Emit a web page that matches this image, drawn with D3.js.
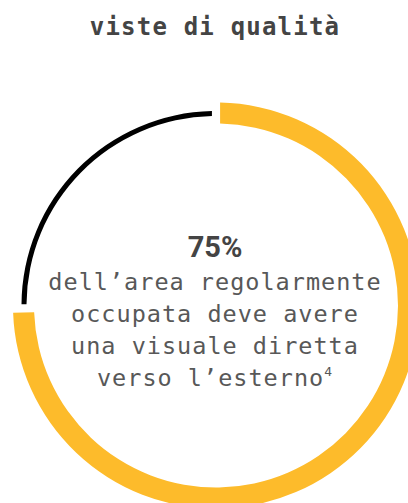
<!DOCTYPE html>
<html>
<head>
<meta charset="utf-8">
<script src="https://cdn.jsdelivr.net/npm/d3@7"></script>
<style>
  html, body { margin: 0; padding: 0; background: #fff; }
  svg { display: block; }
</style>
</head>
<body>
<div id="chart"></div>
<script>
const title = "viste di qualità";
const categories = ["con visuale diretta", "resto"];
const values = [75, 25];
const colors = ["#FDBB2B", "#000000"];
const headline = "75%";
const bodyLines = ["dell’area regolarmente", "occupata deve avere", "una visuale diretta", "verso l’esterno"];
const footnote = "4";

const W = 408, H = 503;
const cx = 216, cy = 305.5;

const svg = d3.select("#chart").append("svg")
  .attr("width", W).attr("height", H);

svg.append("text")
  .attr("x", 215).attr("y", 35)
  .attr("text-anchor", "middle")
  .attr("font-family", "'DejaVu Sans Mono', monospace")
  .attr("font-weight", "bold")
  .attr("font-size", 24)
  .attr("letter-spacing", 1.2)
  .attr("fill", "#444")
  .text(title);

const pie = d3.pie().sort(null).value(d => d).padAngle(0.03);
const arcs = pie(values);

const radii = [[182, 203], [189.5, 194.5]];
const arcGen = d3.arc()
  .innerRadius(d => radii[d.index][0])
  .outerRadius(d => radii[d.index][1]);

const g = svg.append("g").attr("transform", `translate(${cx},${cy})`);
g.selectAll("path").data(arcs).join("path")
  .attr("d", arcGen)
  .attr("fill", (d, i) => colors[i]);

svg.append("text")
  .attr("x", 215).attr("y", 257)
  .attr("text-anchor", "middle")
  .attr("font-family", "Roboto, sans-serif")
  .attr("font-weight", "bold")
  .attr("font-size", 29)
  .attr("fill", "#444")
  .text(headline);

const lineY = d3.scaleLinear().domain([0, 1]).range([290, 322]);
bodyLines.forEach((line, i) => {
  const t = svg.append("text")
    .attr("x", 215).attr("y", lineY(i))
    .attr("text-anchor", "middle")
    .attr("font-family", "'DejaVu Sans Mono', monospace")
    .attr("font-size", 23.5)
    .attr("letter-spacing", 1.0)
    .attr("fill", "#585858");
  t.append("tspan").text(line);
  if (i === bodyLines.length - 1) {
    t.append("tspan")
      .attr("font-size", 13)
      .attr("dy", -10)
      .text(footnote);
  }
});
</script>
</body>
</html>
